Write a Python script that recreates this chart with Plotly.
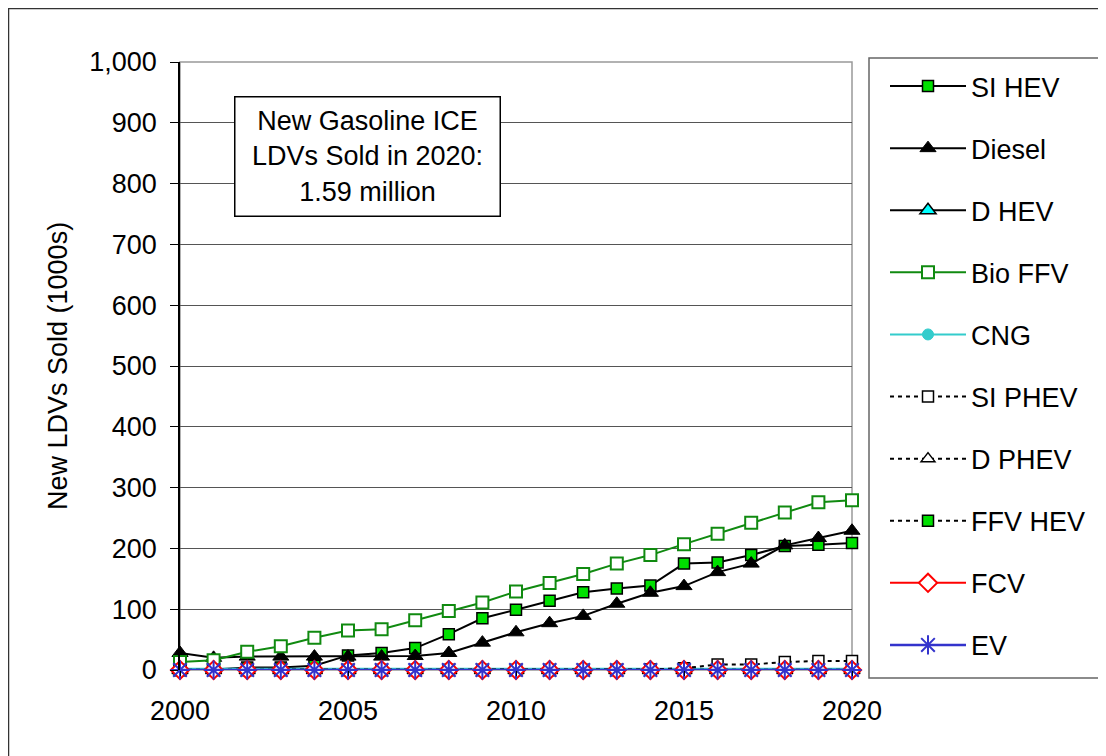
import plotly.graph_objects as go

years = list(range(2000, 2021))
si_hev = [0, 1, 4, 4, 7, 24, 28, 36, 59, 85, 99, 114, 128, 134, 139, 175, 177, 189, 204, 206, 209]
diesel = [28, 20, 22, 22, 22, 22, 22, 23, 28, 45, 62, 77, 89, 109, 127, 138, 161, 175, 205, 217, 229]
d_hev = [0] * 21
bio_ffv = [13, 16, 30, 39, 53, 65, 67, 82, 97, 111, 129, 143, 158, 175, 189, 207, 224, 242, 259, 276, 279]
cng = [2] * 21
si_phev = [0, 0, 0, 0, 0, 0, 0, 0, 0, 0, 0, 0, 0, 0, 1, 3, 9, 9, 13, 15, 15]
d_phev = [0.5] * 21
ffv_hev = [0] * 21
fcv = [0] * 21
ev = [0] * 21

FONT = "Liberation Sans, Arial, sans-serif"
FS = 27
DASH = "4px,4px"

series = [
    ("SI HEV", si_hev, dict(color="black", width=2, dash="solid"),
     dict(symbol="square", size=11, color="#00E000", line=dict(color="black", width=1.5))),
    ("Diesel", diesel, dict(color="black", width=2, dash="solid"),
     dict(symbol="triangle-up", size=14, color="black", line=dict(color="black", width=1))),
    ("D HEV", d_hev, dict(color="black", width=2, dash="solid"),
     dict(symbol="triangle-up", size=14, color="#00FFFF", line=dict(color="black", width=1.5))),
    ("Bio FFV", bio_ffv, dict(color="#108A10", width=2, dash="solid"),
     dict(symbol="square", size=12, color="white", line=dict(color="#108A10", width=2))),
    ("CNG", cng, dict(color="#33CCCC", width=2, dash="solid"),
     dict(symbol="circle", size=11, color="#33CCCC", line=dict(color="#33CCCC", width=1))),
    ("SI PHEV", si_phev, dict(color="black", width=2, dash=DASH),
     dict(symbol="square", size=11, color="white", line=dict(color="black", width=1.5))),
    ("D PHEV", d_phev, dict(color="black", width=2, dash=DASH),
     dict(symbol="triangle-up", size=12, color="white", line=dict(color="black", width=1.5))),
    ("FFV HEV", ffv_hev, dict(color="black", width=2, dash=DASH),
     dict(symbol="square", size=11, color="#00E000", line=dict(color="black", width=1.5))),
    ("FCV", fcv, dict(color="#FF0000", width=2, dash="solid"),
     dict(symbol="diamond", size=14, color="white", line=dict(color="#FF0000", width=2))),
    ("EV", ev, dict(color="#3333CC", width=2.5, dash="solid"),
     dict(symbol="asterisk-open", size=16, color="#3333CC", line=dict(color="#3333CC", width=2))),
]

fig = go.Figure()
for i, (name, vals, ln, mk) in enumerate(series):
    fig.add_trace(go.Scatter(
        x=years, y=vals, name=name, mode="lines+markers",
        line=ln, marker=mk, cliponaxis=False, legendgroup=f"g{i}",
    ))

OFF = 8  # page body margin
W, H = 1106 - OFF, 756 - OFF
L, R, T, B = 180 - OFF, 852 - OFF, 62 - OFF, 670 - OFF
pw, ph = R - L, B - T

def px(xp):
    return (xp - OFF - L) / pw

def py(yp):
    return (B - (yp - OFF)) / ph

shapes = [
    # outer chart border
    dict(type="rect", xref="paper", yref="paper", x0=px(8.5), x1=px(1115), y0=py(765), y1=py(8.5),
         line=dict(color="#333333", width=1.5), fillcolor="rgba(0,0,0,0)", layer="below"),
    # plot area border (gray)
    dict(type="rect", xref="paper", yref="paper", x0=0, x1=1, y0=0, y1=1,
         line=dict(color="#999999", width=1.5), fillcolor="rgba(0,0,0,0)", layer="below"),
    # legend box
    dict(type="rect", xref="paper", yref="paper", x0=px(869), x1=px(1120), y0=py(678), y1=py(58),
         line=dict(color="#666666", width=1.5), fillcolor="white", layer="below"),
]

fig.update_layout(
    width=W, height=H,
    margin=dict(l=L, r=W - R, t=T, b=H - B),
    paper_bgcolor="white", plot_bgcolor="white",
    font=dict(family=FONT, size=FS, color="black"),
    showlegend=True,
    legend=dict(
        x=px(885), y=py(62), xanchor="left", yanchor="top",
        bgcolor="rgba(0,0,0,0)", borderwidth=0,
        font=dict(family=FONT, size=FS, color="black"),
        tracegroupgap=24, itemwidth=76, traceorder="grouped",
    ),
    shapes=shapes,
    xaxis=dict(
        range=[2000, 2020], tickmode="linear", tick0=2000, dtick=5,
        showgrid=False, zeroline=False, showline=False,
        ticks="outside", ticklen=5, tickcolor="black",
        tickfont=dict(family=FONT, size=FS), ticklabelstandoff=12,
    ),
    yaxis=dict(
        range=[0, 1000], tickmode="linear", tick0=0, dtick=100, tickformat=",d",
        showgrid=True, gridcolor="#555555", gridwidth=1, zeroline=False,
        showline=True, linecolor="black", linewidth=1.5,
        ticks="outside", ticklen=8, tickcolor="black",
        tickfont=dict(family=FONT, size=FS), ticklabelstandoff=8,
    ),
    annotations=[
        dict(text="New Gasoline ICE<br>LDVs Sold in 2020:<br>1.59 million",
             xref="paper", yref="paper", x=px(367), y=py(156.5), xanchor="center", yanchor="middle",
             showarrow=False, bgcolor="white", bordercolor="black", borderwidth=1.5,
             borderpad=4, width=256, height=110, font=dict(family=FONT, size=FS)),
        dict(text="New LDVs Sold (1000s)", xref="paper", yref="paper",
             x=px(58), y=0.5, xanchor="center", yanchor="middle", textangle=-90,
             showarrow=False, font=dict(family=FONT, size=FS)),
    ],
)

fig.write_html("out.html")
